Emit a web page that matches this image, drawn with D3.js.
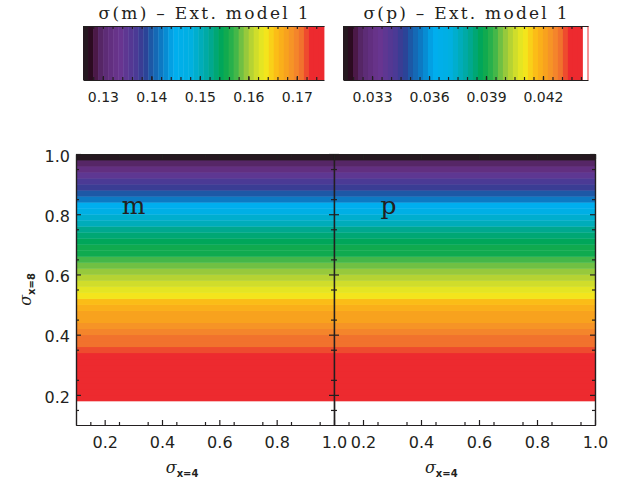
<!DOCTYPE html>
<html>
<head>
<meta charset="utf-8">
<script src="https://cdn.jsdelivr.net/npm/d3@7"></script>
<style>
body { margin: 0; background: #fff; }
text { font-family: "DejaVu Sans", sans-serif; fill: #231f20; }
.axis path, .axis line { stroke: #231f20; stroke-width: 1.2; }
</style>
</head>
<body>
<svg id="chart" width="633" height="483"></svg>
<script>
// sigma_x=8 rows (band centres, each 0.02 high)
var sigmaX8 = [0.19, 0.21, 0.23, 0.25, 0.27, 0.29, 0.31, 0.33, 0.35, 0.37,
               0.39, 0.41, 0.43, 0.45, 0.47, 0.49, 0.51, 0.53, 0.55, 0.57,
               0.59, 0.61, 0.63, 0.65, 0.67, 0.69, 0.71, 0.73, 0.75, 0.77,
               0.79, 0.81, 0.83, 0.85, 0.87, 0.89, 0.91, 0.93, 0.95, 0.97, 0.99];
// sigma(m) per row
var sigmaM = [0.1752, 0.1750, 0.1748, 0.1746, 0.1743, 0.1740, 0.1736, 0.1731, 0.1724, 0.1714,
              0.1707, 0.1700, 0.1692, 0.1683, 0.1675, 0.1664, 0.1655, 0.1641, 0.1631, 0.1618,
              0.1610, 0.1598, 0.1586, 0.1570, 0.1557, 0.1549, 0.1540, 0.1530, 0.1518, 0.1504,
              0.1489, 0.1470, 0.1446, 0.1422, 0.1402, 0.1380, 0.1365, 0.1345, 0.1320, 0.1293, 0.1263];
// sigma(p) per row
var sigmaP = [0.04400, 0.04395, 0.04390, 0.04385, 0.04377, 0.04369, 0.04359, 0.04346, 0.04329, 0.04303,
              0.04285, 0.04268, 0.04247, 0.04224, 0.04204, 0.04176, 0.04153, 0.04118, 0.04092, 0.04059,
              0.04039, 0.04008, 0.03978, 0.03937, 0.03904, 0.03884, 0.03861, 0.03836, 0.03805, 0.03770,
              0.03731, 0.03683, 0.03622, 0.03561, 0.03510, 0.03455, 0.03416, 0.03366, 0.03302, 0.03233, 0.03157];

var xTicks = [0.2, 0.4, 0.6, 0.8, 1.0];
var yTicks = [0.2, 0.4, 0.6, 0.8, 1.0];
var mTicks = [0.13, 0.14, 0.15, 0.16, 0.17];
var pTicks = [0.033, 0.036, 0.039, 0.042];
var mRange = [0.1259, 0.1756];   // colour bar limits
var pRange = [0.03147, 0.04437];
var mTop = 0.1756, pTop = 0.0441; // above the top the colour table is white

// colour table (rainbow + black), quantised into bands
var stopT = [0, 0.03, 0.05, 0.08, 0.15, 0.22, 0.255, 0.285, 0.33, 0.38, 0.45, 0.52, 0.58, 0.63, 0.67, 0.71, 0.755, 0.795, 0.84, 0.88, 0.915, 0.94, 1];
var stopC = ["#231f20", "#2a0a1f", "#4a1845", "#5a2a70", "#6b3590", "#4a3a95", "#2e3f94", "#1b5ba9", "#0a7fc8", "#00aeef",
             "#00b0e0", "#00a99d", "#00a651", "#39b54a", "#8dc63f", "#c8d92e", "#f2eb1d", "#fcc216", "#f8a41d", "#f58a2b",
             "#ef6a2e", "#ed2a2f", "#ed2a2f"];
var nLevels = 48;
var ramp = d3.scaleLinear().domain(stopT).range(stopC).interpolate(d3.interpolateRgb);
var levels = d3.range(nLevels).map(function (i) { return ramp((i + 0.5) / nLevels); });

function colourScale(lo, hi) {
    var q = d3.scaleQuantize().domain([lo, hi]).range(levels);
    return function (v) { return v > hi ? "#ffffff" : q(Math.max(v, lo)); };
}

var svg = d3.select("#chart");

// ---------- colour bars ----------
var bars = [
    { range: [83, 324], dom: mRange, hi: mTop, ticks: mTicks, minorStep: 0.002, fmt: d3.format(".2f"), title: "\u03c3(m) \u2013 Ext. model 1", tw: 210 },
    { range: [343, 588], dom: pRange, hi: pTop, ticks: pTicks, minorStep: 0.0005, fmt: d3.format(".3f"), title: "\u03c3(p) \u2013 Ext. model 1", tw: 204 }
];
var barTop = 26, barBot = 80;

bars.forEach(function (b) {
    var xb = d3.scaleLinear().domain(b.dom).range(b.range);
    var col = colourScale(b.dom[0], b.hi);
    var step = (b.hi - b.dom[0]) / nLevels;
    var cells = d3.range(nLevels).map(function (i) { return b.dom[0] + i * step; });
    var g = svg.append("g");
    g.selectAll("rect.cell").data(cells).enter().append("rect")
        .attr("x", function (d) { return xb(d); })
        .attr("width", function (d) { return xb(d + step) - xb(d) + 0.4; })
        .attr("y", barTop).attr("height", barBot - barTop)
        .attr("fill", function (d) { return col(d + step / 2); });
    if (b.hi < b.dom[1]) {
        g.append("rect").attr("x", xb(b.hi)).attr("width", xb(b.dom[1]) - xb(b.hi))
            .attr("y", barTop).attr("height", barBot - barTop).attr("fill", "#fff");
        g.append("line").attr("x1", xb(b.dom[1])).attr("x2", xb(b.dom[1]))
            .attr("y1", barTop).attr("y2", barBot).attr("stroke", "#ed2a2f");
    }
    var minors = d3.range(Math.ceil(b.dom[0] / b.minorStep) * b.minorStep, b.dom[1], b.minorStep);
    g.append("g").attr("class", "axis").attr("transform", "translate(0," + barBot + ")")
        .call(d3.axisBottom(xb).tickValues(minors).tickSize(-3).tickSizeOuter(0).tickFormat(""));
    g.append("g").attr("class", "axis").attr("transform", "translate(0," + barTop + ")")
        .call(d3.axisTop(xb).tickValues(minors).tickSize(-3).tickSizeOuter(0).tickFormat(""));
    var ax = g.append("g").attr("class", "axis").attr("transform", "translate(0," + barBot + ")")
        .call(d3.axisBottom(xb).tickValues(b.ticks).tickSize(-4).tickSizeOuter(0).tickPadding(12).tickFormat(b.fmt));
    ax.selectAll("text").attr("font-size", 14).attr("font-family", "DejaVu Sans");
    ax.select(".domain").remove();
    g.append("text")
        .attr("x", (b.range[0] + b.range[1]) / 2).attr("y", 19)
        .attr("text-anchor", "middle")
        .attr("textLength", b.tw).attr("lengthAdjust", "spacing")
        .style("font-family", "'DejaVu Serif', serif").style("font-size", "17px")
        .text(b.title);
});

// ---------- panels ----------
var plotTop = 154, plotBottom = 425;
var y = d3.scaleLinear().domain([0.1, 1.0]).range([plotBottom, plotTop]);
var minorVals = d3.range(0.15, 1.0, 0.1);
var panels = [
    { label: "m", range: [76, 334], values: sigmaM, col: colourScale(mRange[0], mTop), yLabels: true },
    { label: "p", range: [334, 595], values: sigmaP, col: colourScale(pRange[0], pTop), yLabels: false }
];

panels.forEach(function (p) {
    var x = d3.scaleLinear().domain([0.1, 1.0]).range(p.range);
    var g = svg.append("g");

    g.selectAll("rect.row").data(sigmaX8).enter().append("rect")
        .attr("x", x(0.1)).attr("width", x(1.0) - x(0.1))
        .attr("y", function (d) { return y(d + 0.01); })
        .attr("height", function (d) { return y(d - 0.01) - y(d + 0.01) + 0.4; })
        .attr("fill", function (d, i) { return p.col(p.values[i]); });

    // minor ticks on all four sides
    g.append("g").attr("class", "axis").attr("transform", "translate(0," + plotBottom + ")")
        .call(d3.axisBottom(x).tickValues(minorVals).tickSize(-3).tickSizeOuter(0).tickFormat(""));
    g.append("g").attr("class", "axis").attr("transform", "translate(0," + plotTop + ")")
        .call(d3.axisTop(x).tickValues(minorVals).tickSize(-3).tickSizeOuter(0).tickFormat(""));
    g.append("g").attr("class", "axis").attr("transform", "translate(" + p.range[0] + ",0)")
        .call(d3.axisLeft(y).tickValues(minorVals).tickSize(-3).tickSizeOuter(0).tickFormat(""));
    g.append("g").attr("class", "axis").attr("transform", "translate(" + p.range[1] + ",0)")
        .call(d3.axisRight(y).tickValues(minorVals).tickSize(-3).tickSizeOuter(0).tickFormat(""));

    // major ticks
    var xa = g.append("g").attr("class", "axis").attr("transform", "translate(0," + plotBottom + ")")
        .call(d3.axisBottom(x).tickValues(xTicks).tickSize(-5).tickSizeOuter(0).tickPadding(12).tickFormat(d3.format(".1f")));
    xa.selectAll("text").attr("font-size", 16).attr("font-family", "DejaVu Sans");
    g.append("g").attr("class", "axis").attr("transform", "translate(0," + plotTop + ")")
        .call(d3.axisTop(x).tickValues(xTicks).tickSize(-5).tickSizeOuter(0).tickFormat(""));
    var ya = g.append("g").attr("class", "axis").attr("transform", "translate(" + p.range[0] + ",0)")
        .call(d3.axisLeft(y).tickValues(yTicks).tickSize(-5).tickSizeOuter(0).tickPadding(6)
            .tickFormat(p.yLabels ? d3.format(".1f") : ""));
    ya.selectAll("text").attr("font-size", 16).attr("font-family", "DejaVu Sans").attr("dy", "0.45em");
    g.append("g").attr("class", "axis").attr("transform", "translate(" + p.range[1] + ",0)")
        .call(d3.axisRight(y).tickValues(yTicks).tickSize(-5).tickSizeOuter(0).tickFormat(""));

    // panel letter
    g.append("text").attr("x", x(0.26)).attr("y", y(0.80))
        .style("font-family", "'DejaVu Serif', serif").style("font-size", "25px")
        .text(p.label);

    // x axis title
    var t = g.append("text").attr("x", x(0.47)).attr("y", 473).attr("text-anchor", "middle");
    t.append("tspan").style("font-family", "'DejaVu Serif', serif").style("font-style", "italic").style("font-size", "16px").text("\u03c3");
    t.append("tspan").attr("dy", 4).style("font-size", "10px").style("font-weight", "bold").text("x=4");
});

// y axis title
var yt = svg.append("text").attr("transform", "translate(31," + (plotTop + plotBottom) / 2 + ") rotate(-90)").attr("text-anchor", "middle");
yt.append("tspan").style("font-family", "'DejaVu Serif', serif").style("font-style", "italic").style("font-size", "16px").text("\u03c3");
yt.append("tspan").attr("dy", 4).style("font-size", "10px").style("font-weight", "bold").text("x=8");
</script>
</body>
</html>
